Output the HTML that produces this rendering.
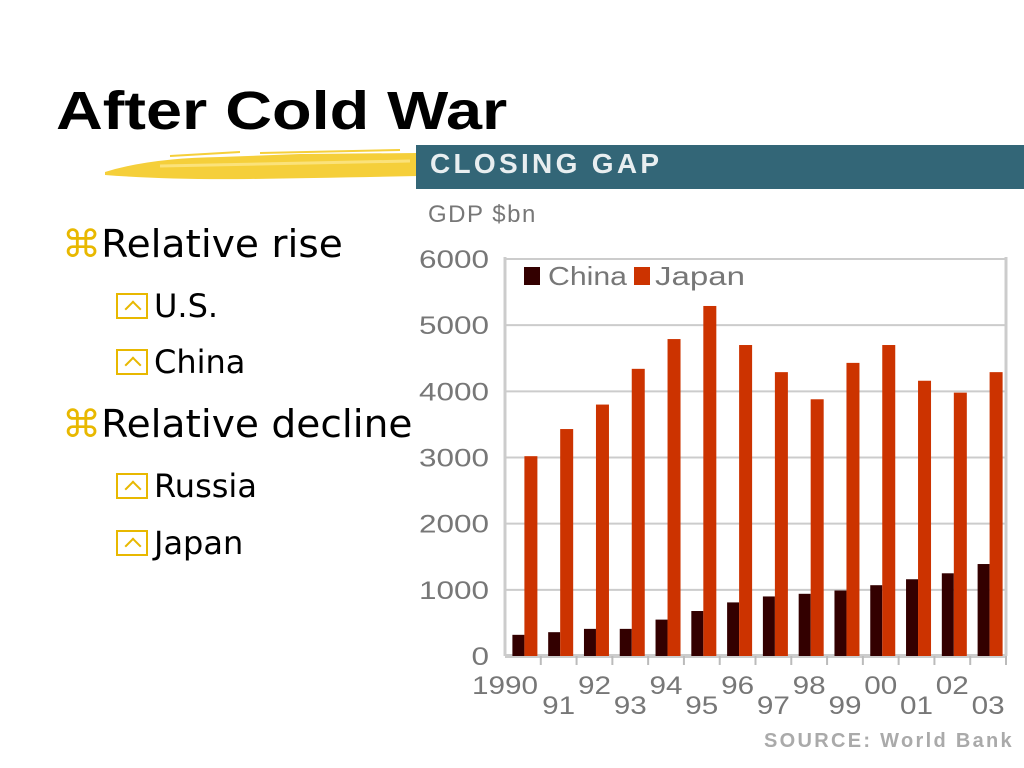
<!DOCTYPE html>
<html><head><meta charset="utf-8"><style>
body{margin:0;width:1024px;height:768px;background:#fff;position:relative;overflow:hidden;font-family:"Liberation Sans","DejaVu Sans",sans-serif}
.t{position:absolute;white-space:nowrap}
.b1{font-family:"DejaVu Sans",sans-serif;font-size:38px;color:#000}
.b2{font-family:"DejaVu Sans",sans-serif;font-size:32px;color:#000}
.ic{color:#e8b800}
.box{display:inline-block;width:32px;height:26px;border:2px solid #e8b800;box-sizing:border-box;position:relative;vertical-align:-2px;margin-right:6px}
.box:after{content:"";position:absolute;left:9px;top:8px;width:10px;height:10px;border-left:2px solid #e8b800;border-top:2px solid #e8b800;transform:rotate(45deg)}
</style></head><body>
<div class="t" style="left:56px;top:80px;font-size:54px;font-weight:bold;transform:scaleX(1.2);transform-origin:0 0">After Cold War</div>
<svg style="position:absolute;left:100px;top:148px" width="320" height="36"><path d="M5 24 Q50 10 120 9 L200 6 L318 5 L318 28 Q220 30 150 31 Q70 32 5 27Z" fill="#f5cf3a"/><path d="M70 8 L140 4 M160 5 L300 2" stroke="#f5cf3a" stroke-width="2"/><path d="M60 18 L310 13" stroke="#fbe27a" stroke-width="3"/></svg>
<div class="t b1" style="left:62px;top:222px;transform:scaleX(1.03);transform-origin:0 0"><span class="ic">⌘</span>Relative rise</div>
<div class="t b2" style="left:116px;top:287px"><span class="box"></span>U.S.</div>
<div class="t b2" style="left:116px;top:343px"><span class="box"></span>China</div>
<div class="t b1" style="left:62px;top:402px;transform:scaleX(1.03);transform-origin:0 0"><span class="ic">⌘</span>Relative decline</div>
<div class="t b2" style="left:116px;top:467px"><span class="box"></span>Russia</div>
<div class="t b2" style="left:116px;top:524px"><span class="box"></span>Japan</div>
<div style="position:absolute;left:416px;top:145px;width:608px;height:44px;background:#336677"></div>
<div class="t" style="left:430px;top:148px;font-size:28px;font-weight:bold;color:#e8eef0;letter-spacing:3.3px">CLOSING GAP</div>
<div class="t" style="left:428px;top:201px;font-size:24px;color:#777;letter-spacing:1.5px">GDP $bn</div>
<div class="t" style="left:764px;top:730px;font-size:20px;font-weight:bold;color:#aaa;letter-spacing:2.3px">SOURCE: World Bank</div>
<svg id="chart" style="position:absolute;left:0;top:0" width="1024" height="768"></svg>
<script>
const years=["1990","91","92","93","94","95","96","97","98","99","00","01","02","03"];
const china=[320,360,410,410,550,680,810,900,940,990,1070,1160,1250,1390];
const japan=[3020,3430,3800,4340,4790,5290,4700,4290,3880,4430,4700,4160,3980,4290];
const yTicks=[0,1000,2000,3000,4000,5000,6000];
const svg=document.getElementById('chart');const NS='http://www.w3.org/2000/svg';
const L=505,R=1006,T=259,B=656;
const y=v=>B-(v/6000)*(B-T);
const slot=(R-L)/years.length;
const x=i=>L+slot*i;
function mk(tag,a){const e=document.createElementNS(NS,tag);for(const k in a)e.setAttribute(k,a[k]);svg.appendChild(e);return e;}
yTicks.forEach(v=>{const g=mk('line',{x1:L,x2:R,y1:y(v),y2:y(v),stroke:'#ccc','stroke-width':v===0?4:2});


const s=String(v);
const t=mk('text',{x:489,y:y(v)+9,'text-anchor':'end','font-size':25,fill:'#777','font-family':'Liberation Sans',textLength:s.length*17.5,lengthAdjust:'spacingAndGlyphs'});t.textContent=s;

});
mk('line',{x1:L,x2:L,y1:T-2,y2:B,stroke:'#ccc','stroke-width':3});
mk('line',{x1:R,x2:R,y1:T-2,y2:B,stroke:'#ccc','stroke-width':3});
years.forEach((yr,i)=>{
const cx=x(i)+slot/2+1.5;
const c=mk('rect',{x:cx-12,y:y(china[i]),width:12,height:B-y(china[i]),fill:'#330000'});


const j=mk('rect',{x:cx,y:y(japan[i]),width:13,height:B-y(japan[i]),fill:'#cc3300'});


mk('line',{x1:x(i)+slot,x2:x(i)+slot,y1:B,y2:B+9,stroke:'#bbb','stroke-width':2});
const px=i===0?505:cx-1.5;
const t=mk('text',{x:px,y:i%2===0?694:714,'text-anchor':'middle','font-size':25,fill:'#777','font-family':'Liberation Sans',textLength:yr.length*16.5,lengthAdjust:'spacingAndGlyphs'});t.textContent=yr;


});
mk('rect',{x:524,y:267,width:16,height:18,fill:'#330000'});
const l1=mk('text',{x:548,y:285,'font-size':26,fill:'#777','font-family':'Liberation Sans',textLength:79,lengthAdjust:'spacingAndGlyphs'});l1.textContent='China';


mk('rect',{x:634,y:267,width:16,height:18,fill:'#cc3300'});
const l2=mk('text',{x:655,y:285,'font-size':26,fill:'#777','font-family':'Liberation Sans',textLength:90,lengthAdjust:'spacingAndGlyphs'});l2.textContent='Japan';


</script>
</body></html>
